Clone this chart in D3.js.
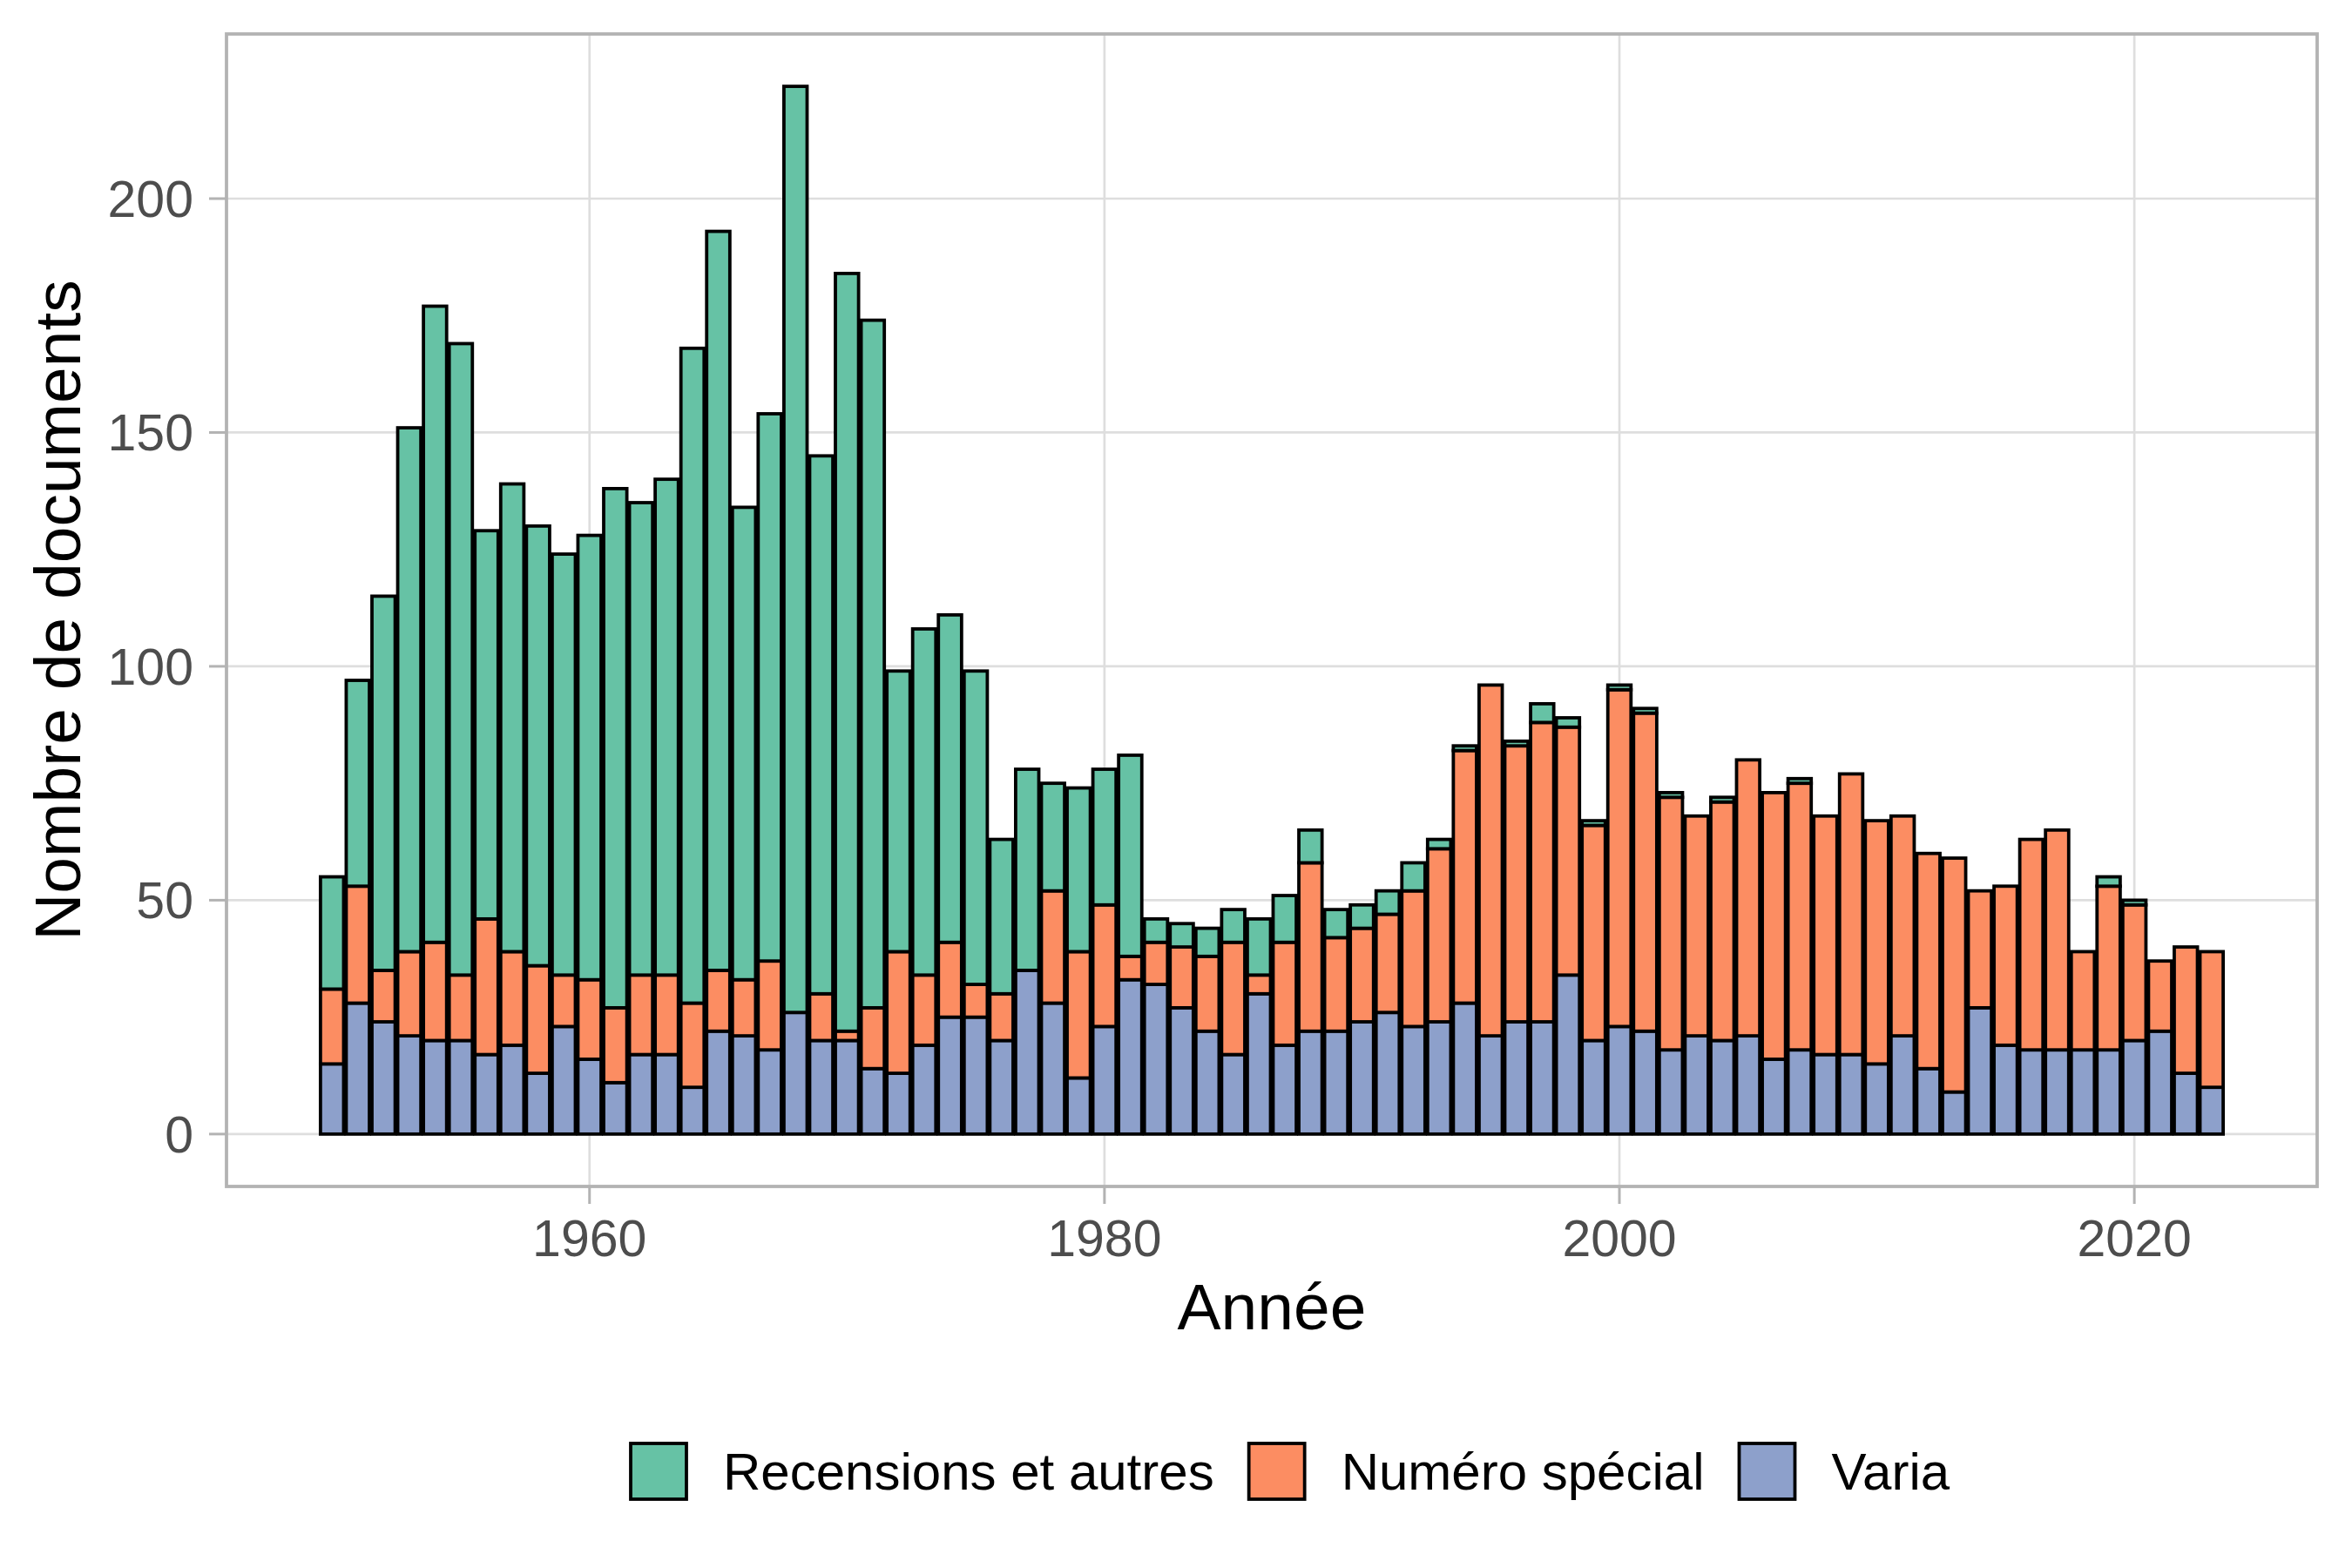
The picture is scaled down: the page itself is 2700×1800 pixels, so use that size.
<!DOCTYPE html>
<html>
<head>
<meta charset="utf-8">
<script src="https://cdn.jsdelivr.net/npm/d3@7"></script>
<style>
  body { margin: 0; background: #fff; }
  text { font-family: "Liberation Sans", Arial, Helvetica, sans-serif; }
</style>
</head>
<body>
<div id="chart_area"></div>
<script>
// Data
var years = [1950, 1951, 1952, 1953, 1954, 1955, 1956, 1957, 1958, 1959,
             1960, 1961, 1962, 1963, 1964, 1965, 1966, 1967, 1968, 1969,
             1970, 1971, 1972, 1973, 1974, 1975, 1976, 1977, 1978, 1979,
             1980, 1981, 1982, 1983, 1984, 1985, 1986, 1987, 1988, 1989,
             1990, 1991, 1992, 1993, 1994, 1995, 1996, 1997, 1998, 1999,
             2000, 2001, 2002, 2003, 2004, 2005, 2006, 2007, 2008, 2009,
             2010, 2011, 2012, 2013, 2014, 2015, 2016, 2017, 2018, 2019,
             2020, 2021, 2022, 2023];

var varia = [15, 28, 24, 21, 20, 20, 17, 19, 13, 23,
             16, 11, 17, 17, 10, 22, 21, 18, 26, 20,
             20, 14, 13, 19, 25, 25, 20, 35, 28, 12,
             23, 33, 32, 27, 22, 17, 30, 19, 22, 22,
             24, 26, 23, 24, 28, 21, 24, 24, 34, 20,
             23, 22, 18, 21, 20, 21, 16, 18, 17, 17,
             15, 21, 14, 9, 27, 19, 18, 18, 18, 18,
             20, 22, 13, 10];

var numeroSpecial = [16, 25, 11, 18, 21, 14, 29, 20, 23, 11,
                     17, 16, 17, 17, 18, 13, 12, 19, 0, 10,
                     2, 13, 26, 15, 16, 7, 10, 0, 24, 27,
                     26, 5, 9, 13, 16, 24, 4, 22, 36, 20,
                     20, 21, 29, 37, 54, 75, 59, 64, 53, 46,
                     72, 68, 54, 47, 51, 59, 57, 57, 51, 60,
                     52, 47, 46, 50, 25, 34, 45, 47, 21, 35,
                     29, 15, 27, 29];

var recensions = [24, 44, 80, 112, 136, 135, 83, 100, 94, 90,
                  95, 111, 101, 106, 140, 158, 101, 117, 198, 115,
                  162, 147, 60, 74, 70, 67, 33, 43, 23, 35,
                  29, 43, 5, 5, 6, 7, 12, 10, 7, 6,
                  5, 5, 6, 2, 1, 0, 1, 4, 2, 1,
                  1, 1, 1, 0, 1, 0, 0, 1, 0, 0,
                  0, 0, 0, 0, 0, 0, 0, 0, 0, 2,
                  1, 0, 0, 0];

var yTicks = [0, 50, 100, 150, 200];
var xTicks = [1960, 1980, 2000, 2020];

var categories = ["Recensions et autres", "Numéro spécial", "Varia"];
var colors = {"Recensions et autres": "#66C2A5", "Numéro spécial": "#FC8D62", "Varia": "#8DA0CB"};

// Figure dimensions
var W = 2700, H = 1800;
var panel = {left: 260, right: 2660, top: 39, bottom: 1362};

var svg = d3.select("#chart_area").append("svg")
    .attr("width", W)
    .attr("height", H);

svg.append("rect").attr("width", W).attr("height", H).attr("fill", "#fff");

// Build rows for the stack
var rows = years.map(function(y, i) {
  return {year: y, "Varia": varia[i], "Numéro spécial": numeroSpecial[i], "Recensions et autres": recensions[i]};
});

var stack = d3.stack().keys(["Varia", "Numéro spécial", "Recensions et autres"]);
var series = stack(rows);

// Scales (ggplot-style 5% expansion)
var x = d3.scaleLinear()
    .domain([1945.9, 2027.1])
    .range([panel.left, panel.right]);
var y = d3.scaleLinear()
    .domain([-11.2, 235.2])
    .range([panel.bottom, panel.top]);

var barW = x(1950.9) - x(1950);

// Gridlines
var grid = svg.append("g");
grid.selectAll(".hgrid")
    .data(yTicks)
    .enter().append("line")
    .attr("x1", panel.left).attr("x2", panel.right)
    .attr("y1", function(d) { return y(d); })
    .attr("y2", function(d) { return y(d); })
    .attr("stroke", "#DEDEDE")
    .attr("stroke-width", 2.7);
grid.selectAll(".vgrid")
    .data(xTicks)
    .enter().append("line")
    .attr("y1", panel.top).attr("y2", panel.bottom)
    .attr("x1", function(d) { return x(d); })
    .attr("x2", function(d) { return x(d); })
    .attr("stroke", "#DEDEDE")
    .attr("stroke-width", 2.7);

// Stacked bars
svg.append("g").selectAll("g")
    .data(series)
    .enter().append("g")
    .attr("fill", function(s) { return colors[s.key]; })
  .selectAll("rect")
    .data(function(s) { return s.filter(function(d) { return d[1] - d[0] > 0; }); })
    .enter().append("rect")
    .attr("x", function(d) { return x(d.data.year) - barW / 2; })
    .attr("width", barW)
    .attr("y", function(d) { return y(d[1]); })
    .attr("height", function(d) { return y(d[0]) - y(d[1]); })
    .attr("stroke", "#000")
    .attr("stroke-width", 3.8);

// Panel border
svg.append("rect")
    .attr("x", panel.left).attr("y", panel.top)
    .attr("width", panel.right - panel.left)
    .attr("height", panel.bottom - panel.top)
    .attr("fill", "none")
    .attr("stroke", "#B3B3B3")
    .attr("stroke-width", 3.8);

// Y axis ticks and labels
var yAxis = svg.append("g");
yAxis.selectAll("line")
    .data(yTicks)
    .enter().append("line")
    .attr("x1", panel.left - 20).attr("x2", panel.left)
    .attr("y1", function(d) { return y(d); })
    .attr("y2", function(d) { return y(d); })
    .attr("stroke", "#B3B3B3")
    .attr("stroke-width", 3);
yAxis.selectAll("text")
    .data(yTicks)
    .enter().append("text")
    .attr("x", 222)
    .attr("y", function(d) { return y(d) + 21; })
    .attr("text-anchor", "end")
    .attr("font-size", 59)
    .attr("fill", "#4D4D4D")
    .text(function(d) { return d; });

// X axis ticks and labels
var xAxis = svg.append("g");
xAxis.selectAll("line")
    .data(xTicks)
    .enter().append("line")
    .attr("y1", panel.bottom).attr("y2", panel.bottom + 20)
    .attr("x1", function(d) { return x(d); })
    .attr("x2", function(d) { return x(d); })
    .attr("stroke", "#B3B3B3")
    .attr("stroke-width", 3);
xAxis.selectAll("text")
    .data(xTicks)
    .enter().append("text")
    .attr("x", function(d) { return x(d); })
    .attr("y", 1442)
    .attr("text-anchor", "middle")
    .attr("font-size", 59)
    .attr("fill", "#4D4D4D")
    .text(function(d) { return d; });

// Axis titles
svg.append("text")
    .attr("x", (panel.left + panel.right) / 2)
    .attr("y", 1526)
    .attr("text-anchor", "middle")
    .attr("font-size", 75)
    .attr("fill", "#000")
    .text("Année");

svg.append("text")
    .attr("transform", "translate(92," + ((panel.top + panel.bottom) / 2) + ") rotate(-90)")
    .attr("text-anchor", "middle")
    .attr("font-size", 75)
    .attr("fill", "#000")
    .text("Nombre de documents");

// Legend
var legend = svg.append("g");
var lx = 724, keySize = 64, keyY = 1657;
categories.forEach(function(c) {
  legend.append("rect")
      .attr("x", lx).attr("y", keyY)
      .attr("width", keySize).attr("height", keySize)
      .attr("fill", colors[c])
      .attr("stroke", "#000")
      .attr("stroke-width", 3.8);
  var t = legend.append("text")
      .attr("x", lx + keySize + 42)
      .attr("y", 1710)
      .attr("font-size", 60)
      .attr("fill", "#000")
      .text(c);
  lx = lx + keySize + 42 + t.node().getComputedTextLength() + 40;
});
</script>
</body>
</html>
